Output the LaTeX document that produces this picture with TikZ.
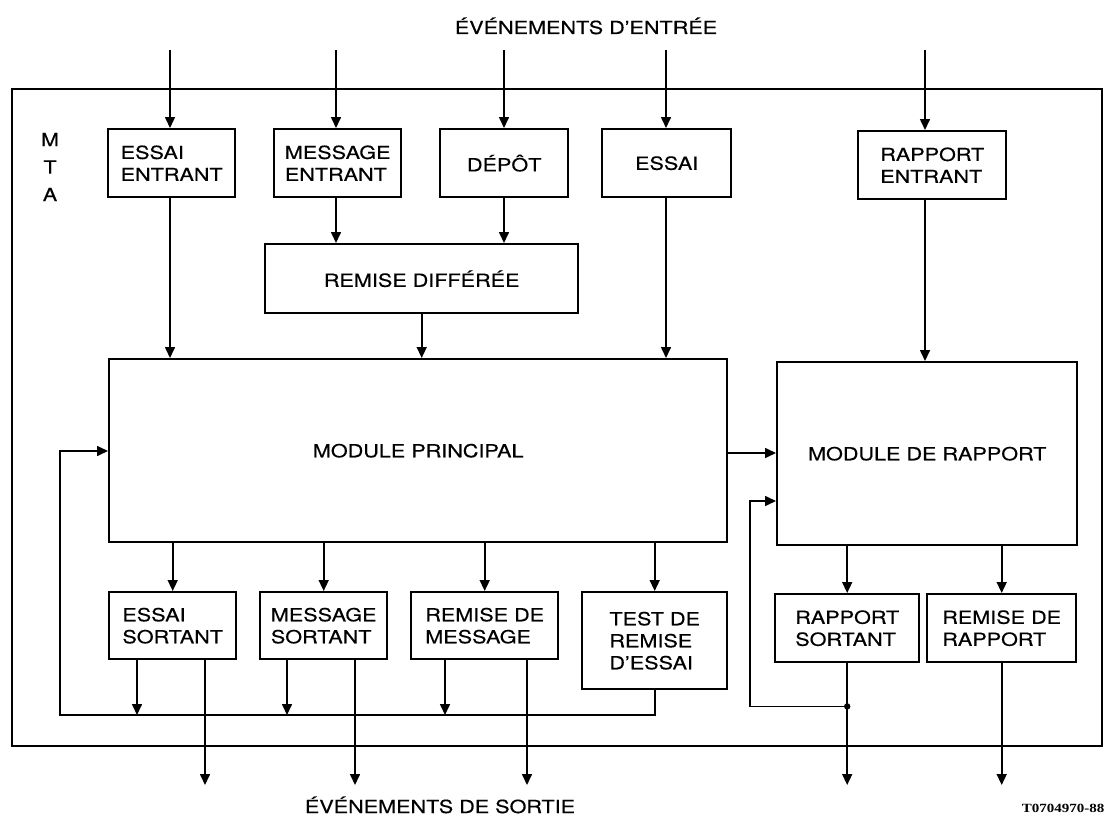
\documentclass[tikz,border=0pt]{standalone}
\usepackage{fontspec}
\setmainfont{TeX Gyre Heros}[FakeStretch=1.2, FakeBold=0.4]
\newfontfamily\codefont{Liberation Serif}[FakeStretch=1.2]
\usetikzlibrary{arrows.meta}

\begin{document}
\begin{tikzpicture}[x=1pt,y=-1pt,
  box/.style={draw, line width=2.4pt, inner sep=0pt, align=left, anchor=north west,
              font=\fontsize{18}{22}\selectfont},
  arr/.style={line width=1.6pt, -{Triangle[length=11pt,width=10pt]}},
  lbl/.style={font=\fontsize{18}{22}\selectfont, inner sep=0pt}]

\useasboundingbox (0,0) rectangle (1105,816);

% MTA frame
\draw[line width=1.8pt] (12,89) rectangle (1102,746);
\node[lbl, align=center, font=\fontsize{18}{27.5}\selectfont] (mta) at (50,167) {M\\T\\A};

% titles
\node[lbl, anchor=base] (tin) at (586,34) {ÉVÉNEMENTS D’ENTRÉE};
\node[lbl, anchor=base] (tout) at (440,813) {ÉVÉNEMENTS DE SORTIE};
\node[font=\codefont\bfseries\fontsize{12.5}{14}\selectfont, anchor=base, inner sep=0pt] (code) at (1063,812) {T0704970-88};

% input modules
\node[box, minimum width=127pt, minimum height=68pt] (eent)  at (107,128) {ESSAI\\ENTRANT};
\node[box, minimum width=127pt, minimum height=68pt] (ment)  at (273,128) {MESSAGE\\ENTRANT};
\node[box, minimum width=128pt, minimum height=68pt] (depot) at (439,128) {DÉPÔT};
\node[box, minimum width=129pt, minimum height=68pt] (essai) at (601,128) {ESSAI};
\node[box, minimum width=148pt, minimum height=68pt] (rent)  at (857,130) {RAPPORT\\ENTRANT};
\node[box, minimum width=313pt, minimum height=69pt] (rdiff) at (264,243) {REMISE DIFFÉRÉE};

% central modules
\node[box, minimum width=618pt, minimum height=183pt] (mp) at (108,358) {MODULE PRINCIPAL};
\node[box, minimum width=300pt, minimum height=183pt] (mr) at (776,361) {MODULE DE RAPPORT};

% output modules
\node[box, minimum width=127pt, minimum height=67pt] (esort) at (108,591) {ESSAI\\SORTANT};
\node[box, minimum width=127pt, minimum height=67pt] (msort) at (259,591) {MESSAGE\\SORTANT};
\node[box, minimum width=147pt, minimum height=67pt] (rmsg)  at (410,591) {REMISE DE\\MESSAGE};
\node[box, minimum width=145pt, minimum height=97pt] (test)  at (581,591) {TEST DE\\REMISE\\D’ESSAI};
\node[box, minimum width=144pt, minimum height=68pt] (rsort) at (774,593) {RAPPORT\\SORTANT};
\node[box, minimum width=149pt, minimum height=68pt] (rrap)  at (926,593) {REMISE DE\\RAPPORT};

% reference points
\coordinate (i1) at (170,50);
\coordinate (i2) at (336,50);
\coordinate (i3) at (504,50);
\coordinate (i4) at (666,50);
\coordinate (i5) at (925,50);
\coordinate (out) at (0,785);
\coordinate (bus) at (60,715);
\coordinate (fbin) at (60,451);
\coordinate (h1) at (0,453);
\coordinate (t1) at (137,0);
\coordinate (t2) at (287,0);
\coordinate (t3) at (445,0);
\coordinate (o1) at (205,0);
\coordinate (o2) at (355,0);
\coordinate (o3) at (527,0);
\coordinate (rfb) at (750,501);

% input events
\draw[arr] (i1) -- (i1 |- eent.north);
\draw[arr] (i2) -- (i2 |- ment.north);
\draw[arr] (i3) -- (i3 |- depot.north);
\draw[arr] (i4) -- (i4 |- essai.north);
\draw[arr] (i5) -- (i5 |- rent.north);

% internal flow
\draw[arr] (i2 |- ment.south) -- (i2 |- rdiff.north);
\draw[arr] (i3 |- depot.south) -- (i3 |- rdiff.north);
\draw[arr] (i1 |- eent.south) -- (i1 |- mp.north);
\draw[arr] (rdiff.south) -- (rdiff.south |- mp.north);
\draw[arr] (i4 |- essai.south) -- (i4 |- mp.north);
\draw[arr] (i5 |- rent.south) -- (i5 |- mr.north);
\draw[arr] (mp.east |- h1) -- (mr.west |- h1);

\draw[arr] (esort.north |- mp.south) -- (esort.north);
\draw[arr] (msort.north |- mp.south) -- (msort.north);
\draw[arr] (rmsg.north |- mp.south) -- (rmsg.north);
\draw[arr] (test.north |- mp.south) -- (test.north);
\draw[arr] (rsort.north |- mr.south) -- (rsort.north);
\draw[arr] (rrap.north |- mr.south) -- (rrap.north);

% feedback to the main module
\draw[arr] (test.south) -- (test.south |- bus) -- (bus) -- (fbin) -- (fbin -| mp.west);
\draw[arr] (t1 |- esort.south) -- (t1 |- bus);
\draw[arr] (t2 |- msort.south) -- (t2 |- bus);
\draw[arr] (t3 |- rmsg.south) -- (t3 |- bus);

% output events
\draw[arr] (o1 |- esort.south) -- (o1 |- out);
\draw[arr] (o2 |- msort.south) -- (o2 |- out);
\draw[arr] (o3 |- rmsg.south) -- (o3 |- out);
\draw[arr] (rsort.south) -- (rsort.south |- out);
\draw[arr] (rrap.south) -- (rrap.south |- out);

% feedback to the report module
\coordinate (dot) at ([yshift=-43pt]rsort.south);
\fill (dot) circle (3.2pt);
\draw[arr] (dot) -- (rfb |- dot) -- (rfb) -- (rfb -| mr.west);

\end{tikzpicture}
\end{document}
